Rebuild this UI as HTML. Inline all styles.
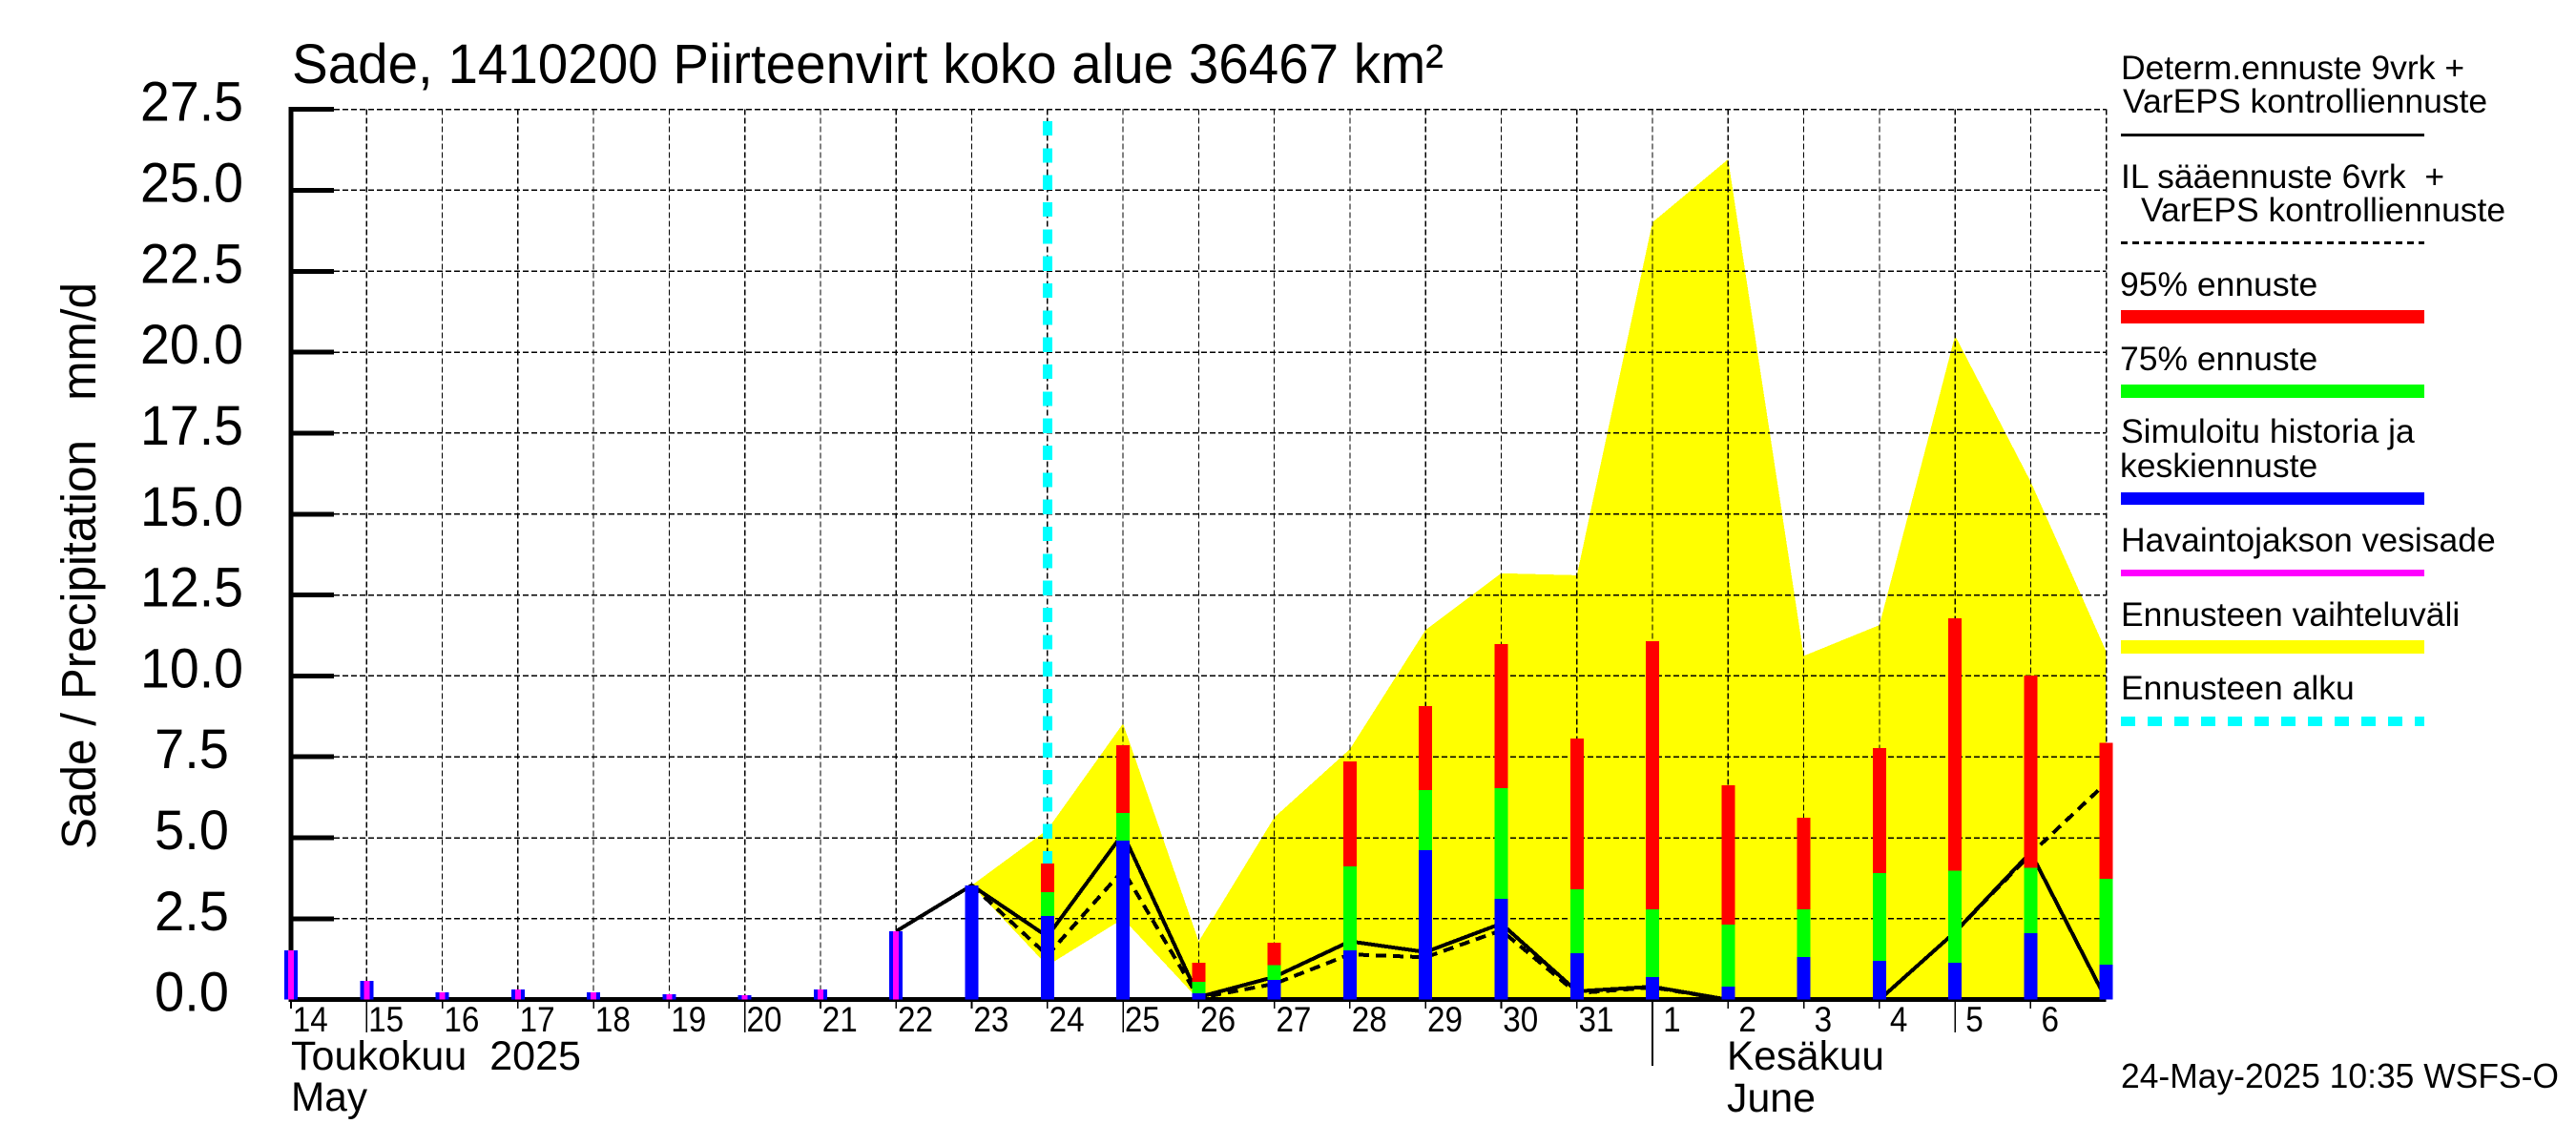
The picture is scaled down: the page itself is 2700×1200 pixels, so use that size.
<!DOCTYPE html>
<html lang="fi">
<head>
<meta charset="utf-8">
<title>Sade, 1410200 Piirteenvirt koko alue 36467 km²</title>
<style>
  html, body { margin: 0; padding: 0; background: #fff; }
  svg { display: block; }
  text { font-family: "Liberation Sans", sans-serif; fill: #000; white-space: pre; }
</style>
</head>
<body>
<svg id="chart" xmlns="http://www.w3.org/2000/svg" width="2700" height="1200" viewBox="0 0 2700 1200" shape-rendering="crispEdges">
  <rect x="0" y="0" width="2700" height="1200" fill="#fff"/>
  <g id="plot"></g>

  <text x="306" y="87" font-size="58" textLength="1207" lengthAdjust="spacingAndGlyphs">Sade, 1410200 Piirteenvirt koko alue 36467 km²</text>
  <text transform="translate(100 890) rotate(-90)" font-size="51" textLength="594" lengthAdjust="spacingAndGlyphs">Sade / Precipitation   mm/d</text>

  <text x="305" y="1121" font-size="43" textLength="304" lengthAdjust="spacingAndGlyphs">Toukokuu  2025</text>
  <text x="305" y="1164" font-size="43" textLength="80" lengthAdjust="spacingAndGlyphs">May</text>
  <text x="1810" y="1121" font-size="43" textLength="165" lengthAdjust="spacingAndGlyphs">Kesäkuu</text>
  <text x="1810" y="1165" font-size="43" textLength="93" lengthAdjust="spacingAndGlyphs">June</text>
  <text x="2223" y="1140" font-size="36" textLength="459" lengthAdjust="spacingAndGlyphs">24-May-2025 10:35 WSFS-O</text>

  <g>
    <text x="2223" y="83" font-size="35.5">Determ.ennuste 9vrk +</text>
    <text x="2225" y="118" font-size="35.5">VarEPS kontrolliennuste</text>
    <line x1="2223" x2="2541" y1="141.5" y2="141.5" stroke="#000" stroke-width="3"/>

    <text x="2223" y="197" font-size="35.5">IL sääennuste 6vrk  +</text>
    <text x="2244" y="232" font-size="35.5">VarEPS kontrolliennuste</text>
    <line x1="2223" x2="2541" y1="254.5" y2="254.5" stroke="#000" stroke-width="3" stroke-dasharray="7 5"/>

    <text x="2222" y="310" font-size="35.5">95% ennuste</text>
    <rect x="2223" y="325" width="318" height="14" fill="#f00"/>

    <text x="2222" y="388" font-size="35.5">75% ennuste</text>
    <rect x="2223" y="403" width="318" height="14" fill="#0f0"/>

    <text x="2223" y="464" font-size="35.5">Simuloitu historia ja</text>
    <text x="2222" y="500" font-size="35.5">keskiennuste</text>
    <rect x="2223" y="516" width="318" height="13" fill="#00f"/>

    <text x="2223" y="578" font-size="35.5">Havaintojakson vesisade</text>
    <rect x="2223" y="597" width="318" height="7" fill="#f0f"/>

    <text x="2223" y="656" font-size="35.5">Ennusteen vaihteluväli</text>
    <rect x="2223" y="671" width="318" height="14" fill="#ff0"/>

    <text x="2223" y="733" font-size="35.5">Ennusteen alku</text>
    <line x1="2223" x2="2541" y1="756" y2="756" stroke="#0ff" stroke-width="10" stroke-dasharray="15 13"/>
  </g>
</svg>

<script>
// Categories: one label per day; the last slot (7 June) closes the axis and has no label.
const dayLabels = ['14','15','16','17','18','19','20','21','22','23','24','25','26','27','28','29','30','31','1','2','3','4','5','6',''];
const yTickLabels = ['0.0','2.5','5.0','7.5','10.0','12.5','15.0','17.5','20.0','22.5','25.0','27.5'];
const yTickValues = [0,2.5,5,7.5,10,12.5,15,17.5,20,22.5,25,27.5];
const longTickLabels = ['15','20','25','5'];
const monthStartLabel = '1';
const forecastStartDay = '24';

// Series values (mm/d), aligned with dayLabels.
const observedRain = [1.52,0.58,0.23,0.32,0.23,0.17,0.14,0.32,2.11,null,null,null,null,null,null,null,null,null,null,null,null,null,null,null,null];
const meanForecast = [null,null,null,null,null,null,null,null,null,3.53,2.58,4.92,0.20,0.61,1.52,4.62,3.12,1.43,0.70,0.40,1.32,1.20,1.14,2.05,1.08];
const p75Forecast  = [null,null,null,null,null,null,null,null,null,null,3.32,5.77,0.55,1.06,4.12,6.48,6.54,3.41,2.79,2.32,2.79,3.91,3.99,4.08,3.73];
const p95Forecast  = [null,null,null,null,null,null,null,null,null,null,4.21,7.86,1.14,1.76,7.36,9.07,10.98,8.06,11.07,6.62,5.62,7.77,11.78,10.01,7.94];
const rangeUpper   = [null,null,null,null,null,null,null,null,null,3.53,5.25,8.53,1.80,5.63,7.74,11.42,13.17,13.11,24.01,25.96,10.62,11.57,20.51,16.00,10.75];
const rangeLower   = [null,null,null,null,null,null,null,null,null,3.53,1.05,2.50,0.00,0.00,0.00,0.08,0.00,0.00,0.00,0.00,0.00,0.00,0.00,0.00,0.00];
const determLine   = [null,null,null,null,null,null,null,null,2.11,3.53,1.95,5.13,0.08,0.70,1.80,1.47,2.35,0.26,0.40,0.00,0.00,0.00,2.09,4.55,0.00];
const ilLine       = [null,null,null,null,null,null,null,null,null,3.53,1.37,4.00,0.05,0.49,1.40,1.31,2.14,0.20,0.38,0.00,0.00,0.00,2.09,4.50,6.70];

const NS = 'http://www.w3.org/2000/svg';
const plot = document.getElementById('plot');
const X0 = 305, X_STEP = 79.28, Y0 = 1047.7, Y_UNIT = 33.93;
const xAxis = i => X0 + i * X_STEP;
const yAxis = v => Y0 - v * Y_UNIT;
const xEnd = xAxis(dayLabels.length - 1);
const yTop = yAxis(yTickValues[yTickValues.length - 1]);

function make(tag, attrs, parent) {
  const el = document.createElementNS(NS, tag);
  for (const k in attrs) el.setAttribute(k, attrs[k]);
  (parent || plot).appendChild(el);
  return el;
}
function seriesPoints(values) {
  const pts = [];
  values.forEach((v, i) => { if (v !== null) pts.push(xAxis(i).toFixed(1) + ',' + yAxis(v).toFixed(1)); });
  return pts;
}

// Forecast range band
const band = make('polygon', {
  points: seriesPoints(rangeUpper).concat(seriesPoints(rangeLower).reverse()).join(' '),
  fill: '#ff0'
});



// Grid
yTickValues.forEach((v) => {
  const g = make('line', { x1: 350, x2: xEnd, y1: yAxis(v), y2: yAxis(v), stroke: '#000', 'stroke-width': 1.5, 'stroke-dasharray': '6 3' });
  
  
});
dayLabels.forEach((d, i) => {
  if (i === 0) return;
  const g = make('line', { x1: xAxis(i), x2: xAxis(i), y1: yTop, y2: Y0, stroke: '#000', 'stroke-width': 1.2, 'stroke-dasharray': '6 3' });
  
  
});

// Forecast start marker
const startX = xAxis(dayLabels.indexOf(forecastStartDay));
const startLine = make('line', { x1: startX, x2: startX, y1: 127, y2: Y0, stroke: '#0ff', 'stroke-width': 10, 'stroke-dasharray': '15.2 13.13' });



// Forecast lines
const lineIl = make('polyline', { points: seriesPoints(ilLine).join(' '), fill: 'none', stroke: '#000', 'stroke-width': 4, 'stroke-dasharray': '11 7' });


const lineDet = make('polyline', { points: seriesPoints(determLine).join(' '), fill: 'none', stroke: '#000', 'stroke-width': 4 });



// Axes
const axisY = make('rect', { x: X0 - 2.5, y: yTop - 2.5, width: 5, height: Y0 - yTop + 5, fill: '#000' });


const axisX = make('rect', { x: X0 - 2.5, y: Y0 - 2.5, width: xEnd - X0 + 2.5, height: 5, fill: '#000' });



yTickValues.forEach((v, i) => {
  const t = make('rect', { x: X0, y: yAxis(v) - 2.5, width: 45, height: 5, fill: '#000' });
  
  
  const label = yTickLabels[i];
  const lab = make('text', { x: 201, y: yAxis(v) + 12, 'font-size': 58, 'text-anchor': 'middle', textLength: label.length > 3 ? 108 : 78, lengthAdjust: 'spacingAndGlyphs' });
  lab.textContent = label;
  
  
});

dayLabels.forEach((d, i) => {
  if (d === '') return;
  const bottom = d === monthStartLabel ? 1117 : (longTickLabels.includes(d) ? 1082 : 1057);
  const t = make('line', { x1: xAxis(i), x2: xAxis(i), y1: Y0, y2: bottom, stroke: '#000', 'stroke-width': 1.6 });
  
  
  const lab = make('text', { x: xAxis(i) + 20.3, y: 1081, 'font-size': 37, 'text-anchor': 'middle', textLength: d.length > 1 ? 37 : 18.5, lengthAdjust: 'spacingAndGlyphs' });
  lab.textContent = d;
  
  
});

// Bars
function bar(i, low, high, width, color) {
  return make('rect', { x: xAxis(i) - width / 2, y: yAxis(high), width: width, height: yAxis(low) - yAxis(high), fill: color });
}
p95Forecast.forEach((v, i) => {
  if (v === null) return;
  const b = bar(i, p75Forecast[i], v, 14, '#f00');
  
  
});
p75Forecast.forEach((v, i) => {
  if (v === null) return;
  const b = bar(i, meanForecast[i], v, 14, '#0f0');
  
  
});
meanForecast.forEach((v, i) => {
  if (v === null) return;
  const b = bar(i, 0, v, 14, '#00f');
  
  
});
observedRain.forEach((v, i) => {
  if (v === null) return;
  const outer = bar(i, 0, v, 14, '#00f');
  
  
  const inner = bar(i, 0, v, 6, '#f0f');
  
  
});
</script>
</body>
</html>
